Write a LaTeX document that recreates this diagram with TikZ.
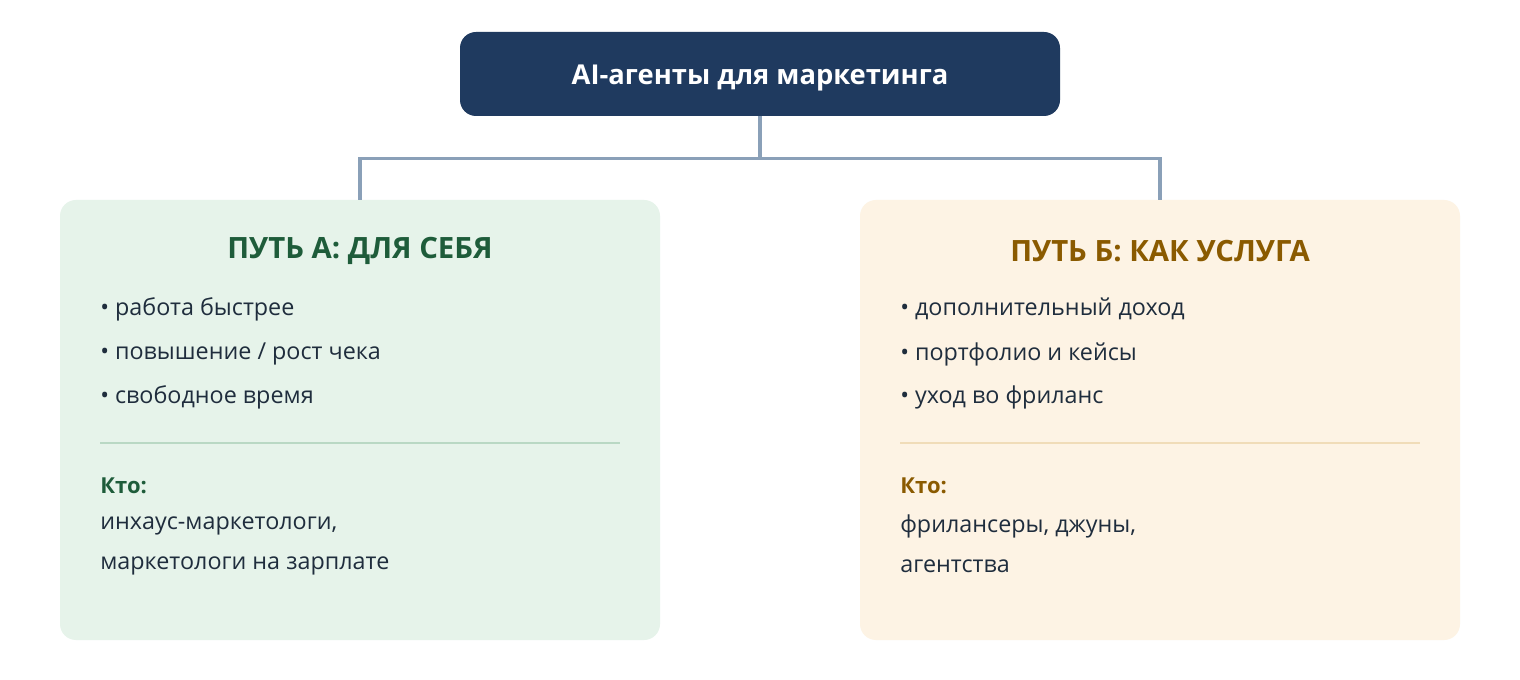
\documentclass[tikz,border=0pt]{standalone}
\usepackage{fontspec}
\setmainfont{Open Sans}
\usepackage{xcolor}
\usetikzlibrary{positioning,calc}
\definecolor{navy}{HTML}{1F3A5F}
\definecolor{linkgray}{HTML}{8AA0B8}
\definecolor{textdark}{HTML}{1F2D3D}
\definecolor{greenbg}{HTML}{E6F3EA}
\definecolor{greenfg}{HTML}{1E5C3A}
\definecolor{greenrule}{HTML}{B9D8C4}
\definecolor{orangebg}{HTML}{FDF3E4}
\definecolor{orangefg}{HTML}{8A5A00}
\definecolor{orangerule}{HTML}{F0DCB8}
\tikzset{
  every node/.style={font=\fontsize{17.5}{21}\selectfont, text=textdark, inner sep=0pt},
  titlebox/.style={draw=none, fill=navy, rounded corners=12pt, minimum width=450pt, minimum height=63pt,
    text height=18pt, text depth=2pt,
    text=white, font=\fontsize{20.5}{24}\selectfont\bfseries},
  pathbox/.style={draw=none, rounded corners=12pt, minimum width=450pt, minimum height=330pt},
  heading/.style={font=\fontsize{22}{26}\selectfont\bfseries},
  who/.style={anchor=west, font=\fontsize{16.5}{20}\selectfont\bfseries},
  item/.style={anchor=west},
  link/.style={draw=linkgray, line width=2.6pt}
}

\begin{document}
\begin{tikzpicture}[x=0.75pt, y=-0.75pt]
\useasboundingbox[fill=white] (0,0) rectangle (1520,680);

% 1. Title
\node[titlebox] (title) at (760,74) {AI-агенты для маркетинга};

% 2. The two paths
\node[pathbox, fill=greenbg] (pathA) at (360,420) {};
\node[pathbox, fill=orangebg] (pathB) at (1160,420) {};

% 3. Connections
\draw[link] (title.south) -- ++(0,42) -| (pathA.north);
\draw[link] (title.south) -- ++(0,42) -| (pathB.north);

% 4. Path A content
\node[heading, text=greenfg] (headA) at (360,251) {ПУТЬ А: ДЛЯ СЕБЯ};
\node[item] (a1) at (100,309) {• работа быстрее};
\node[item] (a2) at (100,354) {• повышение / рост чека};
\node[item] (a3) at (100,397) {• свободное время};
\draw[greenrule, line width=1.7pt] (100,443) -- (620,443);
\node[who, text=greenfg] (whoA) at (100,486) {Кто:};
\node[item] (whoA1) at (100,526) {инхаус-маркетологи,};
\node[item] (whoA2) at (100,566) {маркетологи на зарплате};

% 5. Path B content
\node[heading, text=orangefg] (headB) at (1160,251) {ПУТЬ Б: КАК УСЛУГА};
\node[item] (b1) at (900,309) {• дополнительный доход};
\node[item] (b2) at (900,354) {• портфолио и кейсы};
\node[item] (b3) at (900,397) {• уход во фриланс};
\draw[orangerule, line width=1.7pt] (900,443) -- (1420,443);
\node[who, text=orangefg] (whoB) at (900,486) {Кто:};
\node[item] (whoB1) at (900,526) {фрилансеры, джуны,};
\node[item] (whoB2) at (900,566) {агентства};

\end{tikzpicture}
\end{document}
